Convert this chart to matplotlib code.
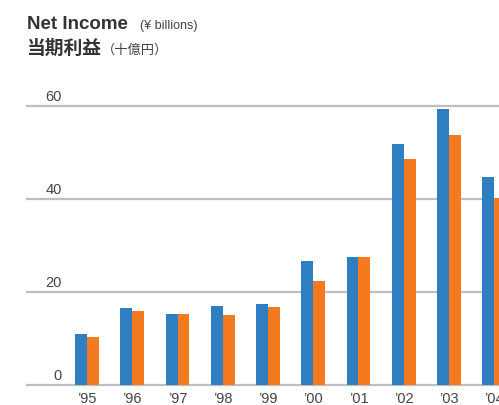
import numpy as np
import matplotlib
matplotlib.use('Agg')
import matplotlib.pyplot as plt

plt.rcParams['font.family'] = ['Liberation Sans', 'Noto Sans CJK JP', 'DejaVu Sans']

# data (¥ billions)
years = ["’95", "’96", "’97", "’98", "’99", "’00", "’01", "’02", "’03", "’04"]
series_a = [11.0, 16.6, 15.3, 17.0, 17.5, 26.7, 27.6, 51.8, 59.3, 44.7]
series_b = [10.4, 16.0, 15.3, 15.1, 16.8, 22.4, 27.6, 48.6, 53.7, 40.2]
yticks = [0, 20, 40, 60]

blue = '#2E7EC1'
orange = '#F47A20'
grid_c = '#BEBEC3'
txt_c = '#444444'

W, H = 499, 405
fig = plt.figure(figsize=(W / 100, H / 100), dpi=100)

# axes placed in pixels: x 27..499, y 106..385
ax = fig.add_axes([27 / W, (H - 385.3) / H, (W - 27) / W, (385.3 - 106) / H])
x = np.arange(len(years))
bw = 0.262
ax.bar(x - bw / 2, series_a, width=bw, color=blue, zorder=3)
ax.bar(x + bw / 2, series_b, width=bw, color=orange, zorder=3)

ax.set_xlim(-1.326, 9.105)
ax.set_ylim(0, 60)
for v in yticks:
    ax.axhline(v, color=grid_c, lw=1.6, zorder=1, clip_on=False)
    ax.text((62 - 27) / (W - 27), v + 0.45, str(v), transform=ax.get_yaxis_transform(),
            ha='right', va='bottom', fontsize=10.5, color=txt_c)

for s in ax.spines.values():
    s.set_visible(False)
ax.set_yticks([])
ax.set_xticks(x)
ax.set_xticklabels(years, fontsize=10.5, color=txt_c)
ax.tick_params(axis='x', length=0, pad=5)

# titles
fig.text(27 / W, (H - 29) / H, 'Net Income', fontsize=13.5, fontweight='bold',
         color='#333333', va='baseline')
fig.text(140 / W, (H - 29) / H, '(¥ billions)', fontsize=9, color='#444444',
         va='baseline')
fig.text(26 / W, (H - 54) / H, '当期利益', fontsize=13.5, fontweight='bold',
         color='#333333', va='baseline', family=['Noto Sans CJK JP'])
fig.text(102 / W, (H - 54) / H, '（十億円）', fontsize=9.5, color='#444444',
         va='baseline', family=['Noto Sans CJK JP'])

fig.savefig('out.png', dpi=100)
